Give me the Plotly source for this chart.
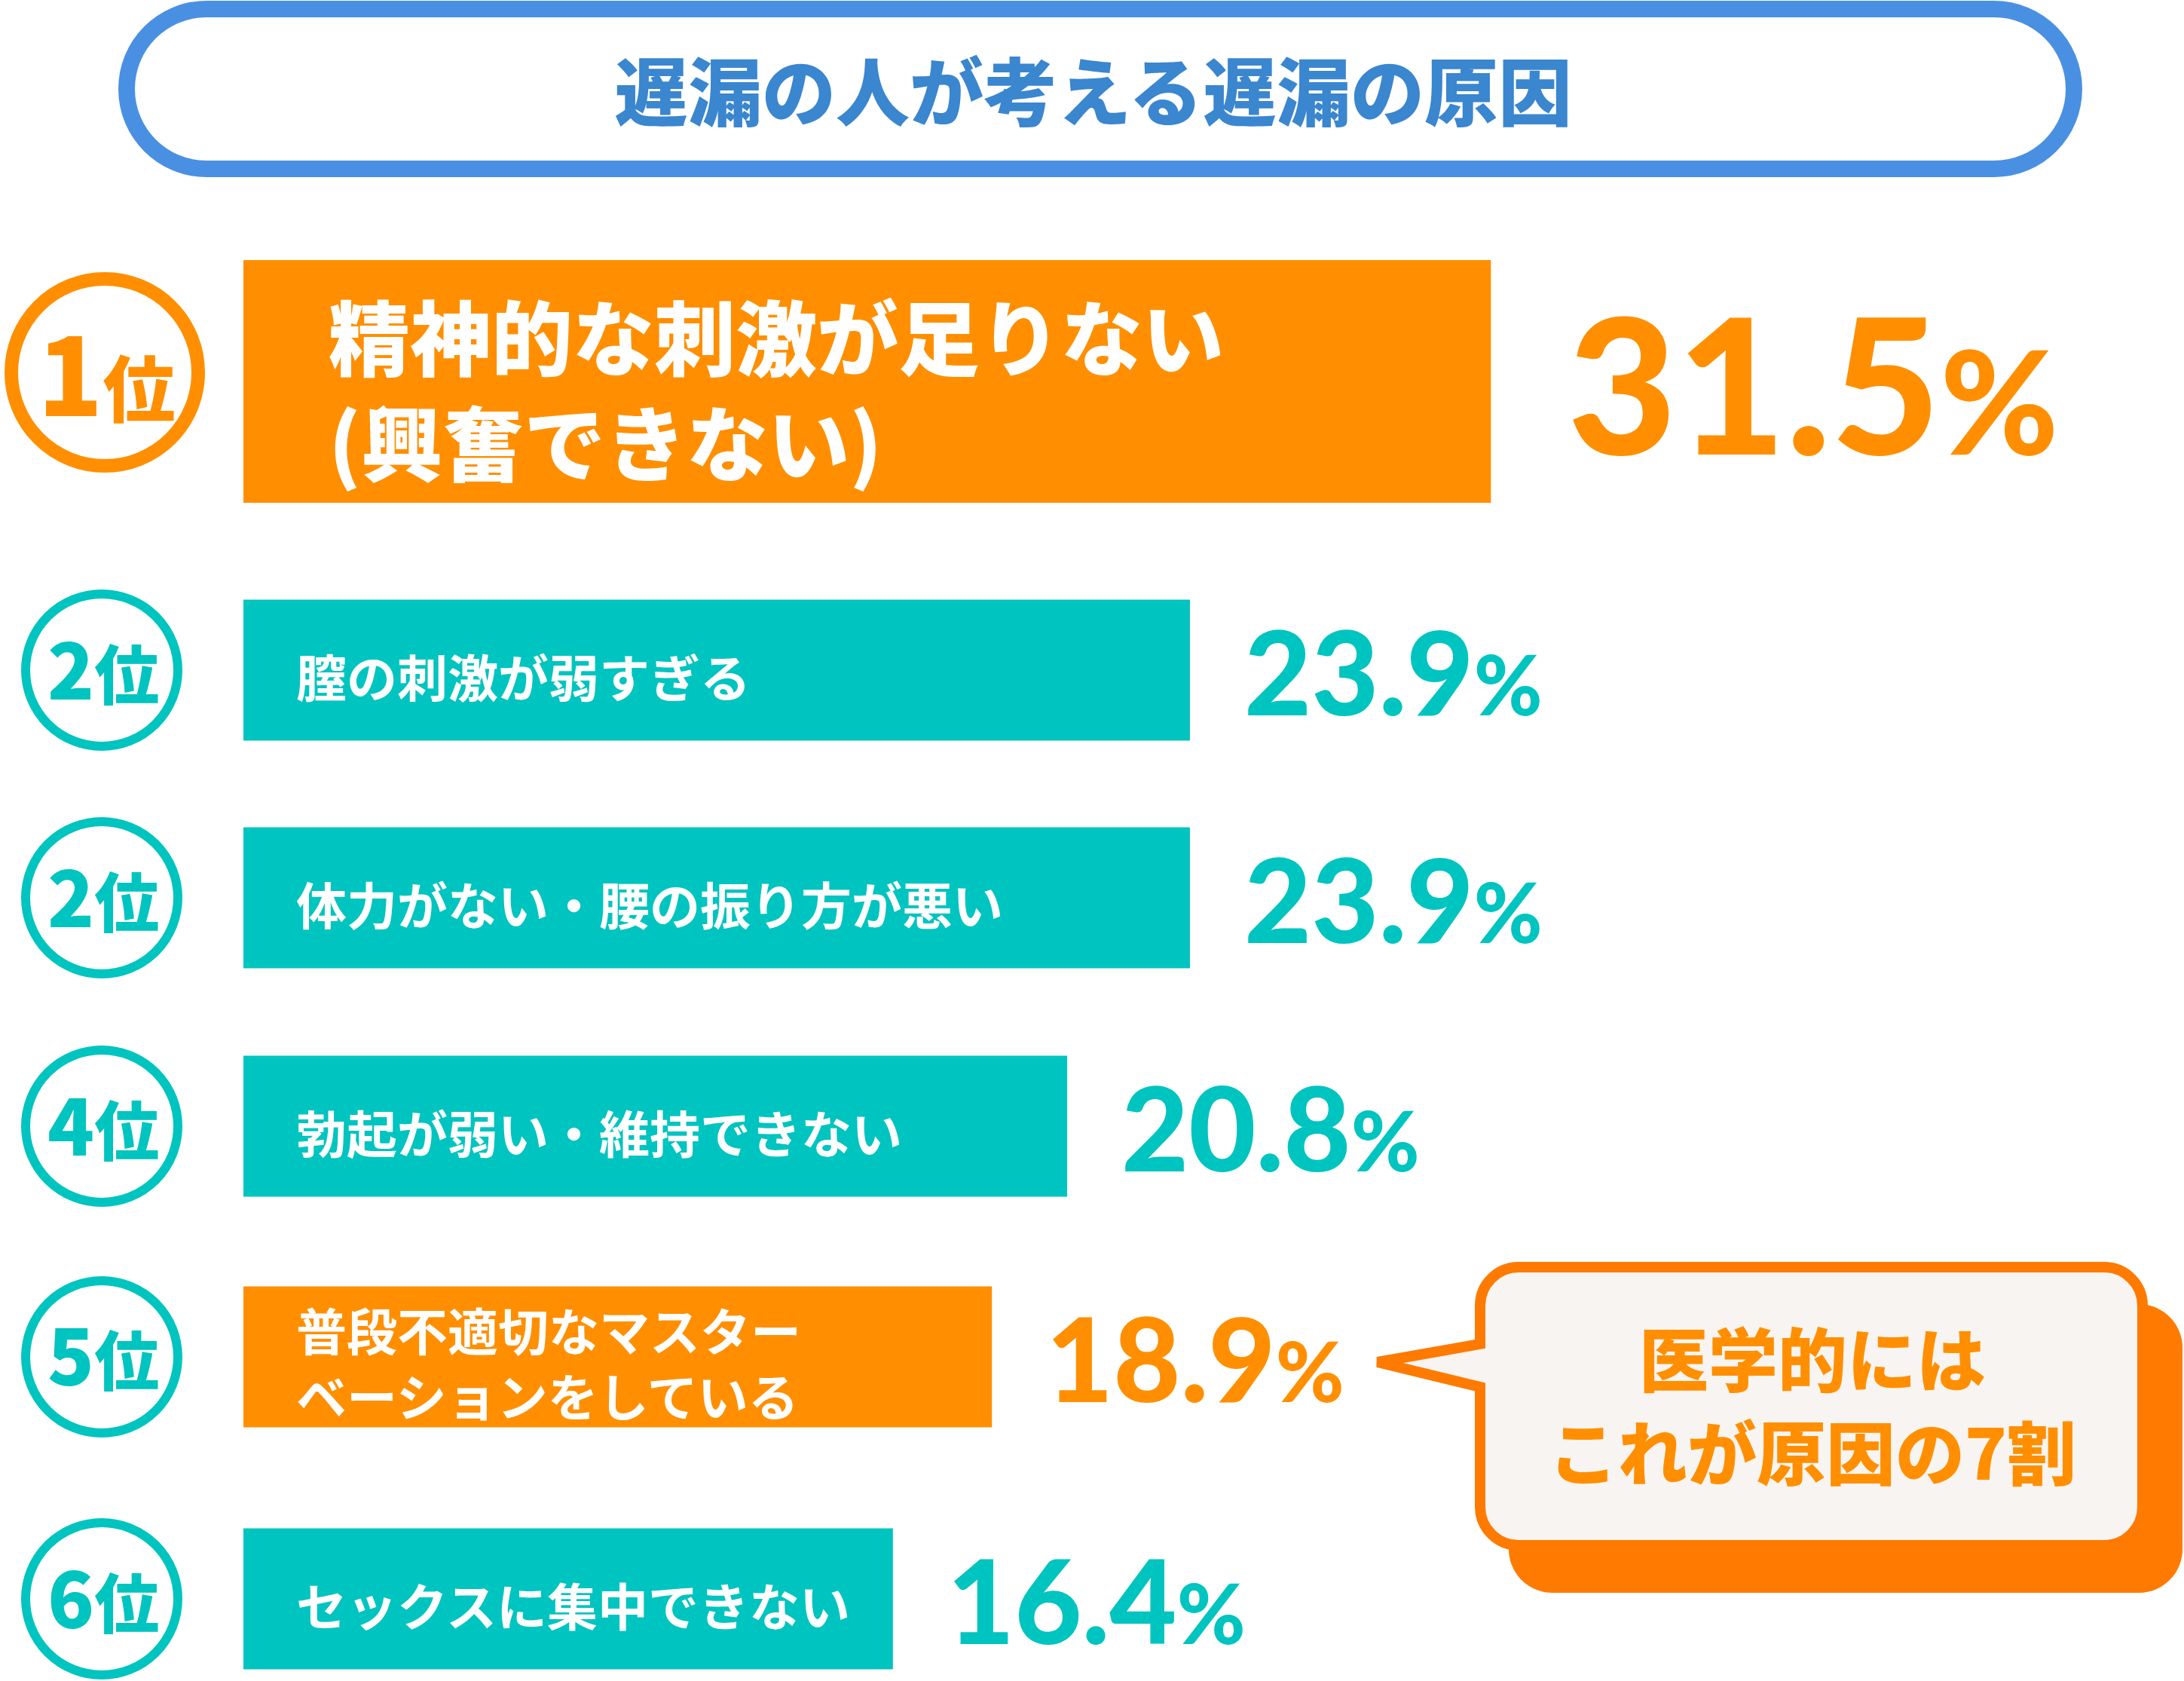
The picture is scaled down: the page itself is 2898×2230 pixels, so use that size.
import plotly.graph_objects as go

# data
title = "遅漏の人が考える遅漏の原因"
ranks = [1, 2, 2, 4, 5, 6]
reasons = [
    "精神的な刺激が足りない<br>(興奮できない)",
    "膣の刺激が弱すぎる",
    "体力がない・腰の振り方が悪い",
    "勃起が弱い・維持できない",
    "普段不適切なマスター<br>ベーションをしている",
    "セックスに集中できない",
]
percent = [31.5, 23.9, 23.9, 20.8, 18.9, 16.4]
callout_lines = ["医学的には", "これが原因の7割"]

# canvas / layout
W, H = 2898, 2230
BAR_X0 = 323          # pixel where 0% sits
PX_PER_PCT = 52.55    # pixels per percent
row_y = [506, 889, 1191, 1494, 1800, 2121]
row_h = [322, 187, 187, 187, 187, 187]
highlight = [True, False, False, False, True, False]

ORANGE = "#FF8F00"
TEAL = "#00C4BF"
BLUE = "#4A90E2"
TITLE_BLUE = "#3A86CF"
CALLOUT_ORANGE = "#FF7A00"
CALLOUT_BG = "#F7F4F1"
JP = "Noto Sans CJK JP"
NUM = "Lato"


def px(x):
    return x / W


def py(y):
    return 1 - y / H


def round_rect(x0, y0, x1, y1, r, notch=None):
    # rounded rectangle as a path in paper coords; optional pointer on the left edge
    k = 0.5523 * r
    pts = [
        ("M", [(x0 + r, y0)]),
        ("L", [(x1 - r, y0)]),
        ("C", [(x1 - r + k, y0), (x1, y0 + r - k), (x1, y0 + r)]),
        ("L", [(x1, y1 - r)]),
        ("C", [(x1, y1 - r + k), (x1 - r + k, y1), (x1 - r, y1)]),
        ("L", [(x0 + r, y1)]),
        ("C", [(x0 + r - k, y1), (x0, y1 - r + k), (x0, y1 - r)]),
    ]
    if notch:
        yb, tip, yt = notch
        pts += [("L", [(x0, yb)]), ("L", [tip]), ("L", [(x0, yt)])]
    pts += [
        ("L", [(x0, y0 + r)]),
        ("C", [(x0, y0 + r - k), (x0 + r - k, y0), (x0 + r, y0)]),
    ]
    d = ""
    for cmd, ps in pts:
        d += cmd + " ".join(f"{px(a):.5f},{py(b):.5f}" for a, b in ps) + " "
    return d + "Z"


def label(x, y, text, font, **kw):
    # centred text placed in pixel coords
    return dict(x=px(x), y=py(y), xref="paper", yref="paper",
                xanchor="center", yanchor="middle",
                text=text, showarrow=False, font=font, **kw)


bar_colors = [ORANGE if h else TEAL for h in highlight]

fig = go.Figure(go.Bar(
    x=percent,
    y=row_y,
    width=row_h,
    orientation="h",
    marker=dict(color=bar_colors, line=dict(width=0)),
    hoverinfo="skip",
))

shapes = []
annotations = []

# title pill
shapes.append(dict(type="path", xref="paper", yref="paper",
                   path=round_rect(168, 12, 2752, 224, 106),
                   fillcolor="white", line=dict(color=BLUE, width=22), layer="below"))
annotations.append(label(1450, 116, title,
                         dict(family=JP, size=98, color=TITLE_BLUE, weight=900)))

# rank circles
for i, rk in enumerate(ranks):
    color = ORANGE if i == 0 else TEAL
    if i == 0:
        cx, cy, r, lw = 139, row_y[i] - 12, 124, 18
        txt = f"<span style='font-size:142px'>{rk}</span>位"
        size = 96
        ty = cy - 4
    else:
        cx, cy, r, lw = 135, row_y[i], 101, 12
        txt = f"<span style='font-size:102px'>{rk}</span>位"
        size = 86
        ty = cy - 6
    shapes.append(dict(type="circle", xref="paper", yref="paper",
                       x0=px(cx - r), x1=px(cx + r), y0=py(cy + r), y1=py(cy - r),
                       fillcolor="white", line=dict(color=color, width=lw)))
    annotations.append(label(cx + 2, ty, txt,
                             dict(family=JP, size=size, color=color, weight=900)))

# bar labels and values
for i, (reason, v) in enumerate(zip(reasons, percent)):
    big = i == 0
    annotations.append(dict(x=0, y=row_y[i] + (7 if big else 6), xref="x", yref="y",
                            xanchor="left", yanchor="middle", align="left",
                            xshift=111 if big else 68, text=reason, showarrow=False,
                            font=dict(family=JP, size=108 if big else 67, color="white",
                                      weight=900 if big else 700)))
    num_size, pct_size = (250, 190) if big else (154, 110)
    annotations.append(dict(x=v, y=row_y[i], xref="x", yref="y",
                            xanchor="left", yanchor="middle",
                            xshift=100 if big else 70,
                            text=f"{v:.1f}<span style='font-size:{pct_size}px'>%</span>",
                            showarrow=False,
                            font=dict(family=NUM, size=num_size, color=bar_colors[i],
                                      weight=900)))

# callout with shadow and pointer
shapes.append(dict(type="path", xref="paper", yref="paper",
                   path=round_rect(2002, 1730, 2896, 2113, 58),
                   fillcolor=CALLOUT_ORANGE, line=dict(width=0)))
shapes.append(dict(type="path", xref="paper", yref="paper",
                   path=round_rect(1964, 1681, 2843, 2050, 51,
                                   notch=(1840, (1828, 1807), 1783)),
                   fillcolor=CALLOUT_BG, line=dict(color=CALLOUT_ORANGE, width=14)))
for j, line in enumerate(callout_lines):
    annotations.append(label(2405, 1798 + j * 124, line,
                             dict(family=JP, size=92, color=ORANGE, weight=900)))

fig.update_layout(
    width=W, height=H,
    margin=dict(l=0, r=0, t=0, b=0),
    paper_bgcolor="white", plot_bgcolor="white",
    showlegend=False,
    xaxis=dict(range=[-BAR_X0 / PX_PER_PCT, (W - BAR_X0) / PX_PER_PCT],
               visible=False, fixedrange=True),
    yaxis=dict(range=[H, 0], visible=False, fixedrange=True),
    shapes=shapes,
    annotations=annotations,
)

fig.write_html("out.html", config={"displayModeBar": False},
               post_script="document.body.style.margin='0px';")
